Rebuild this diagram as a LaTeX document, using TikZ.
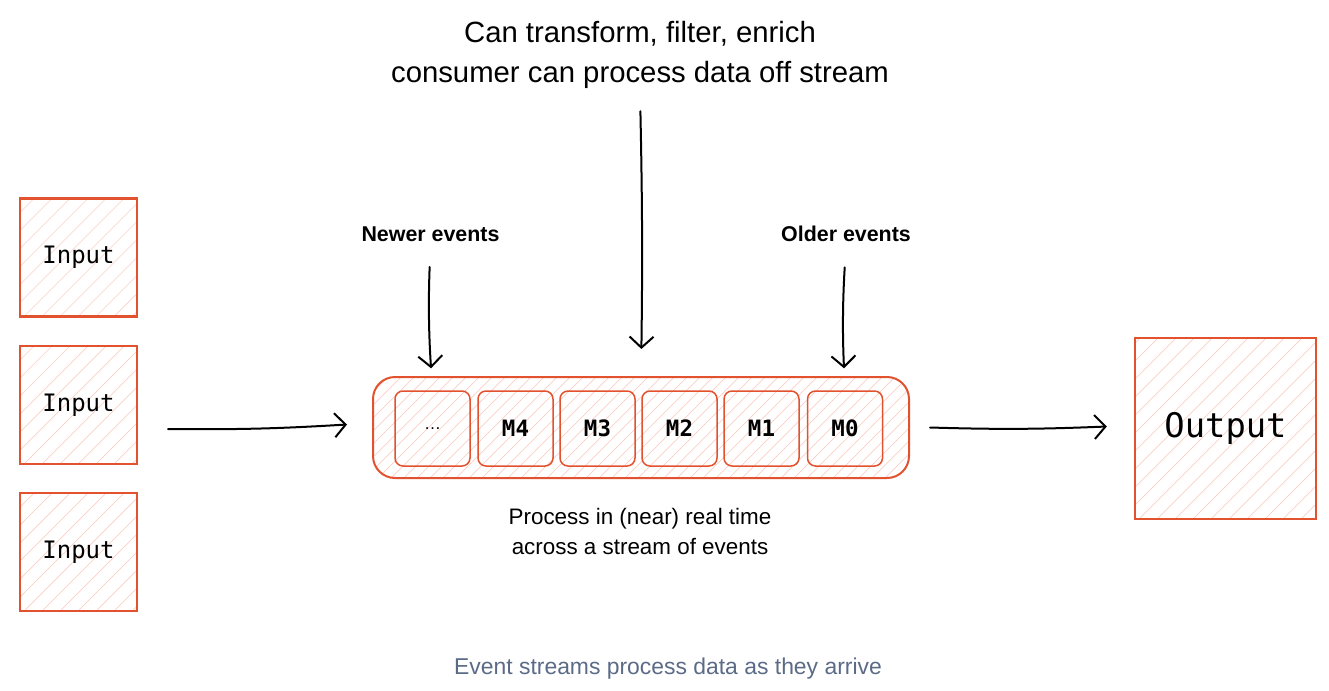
\documentclass[tikz,border=0pt]{standalone}
\usepackage{fontspec}
\setmainfont{Liberation Sans}
\newfontfamily\monofnt{DejaVu Sans Mono}
\usetikzlibrary{arrows.meta}
\definecolor{redline}{HTML}{E2522E}
\definecolor{hatchc}{HTML}{F9CFC4}
\definecolor{capc}{HTML}{5B6B86}
\tikzset{
  hatched/.style={path picture={
     \path (path picture bounding box.south west) coordinate (hsw);
     \foreach \k in {0,...,90}
       \draw[hatchc, line width=0.7pt] ([xshift=\k*#1 - 320pt]hsw) -- ++(400pt,400pt);
  }},
  sketchbox/.style={draw=redline, line width=2.4pt, hatched=18pt, inner sep=0pt,
     font=\monofnt\fontsize{24}{27}\selectfont},
  outerbox/.style={draw=redline, line width=2pt, rounded corners=22pt, hatched=13pt,
     minimum width=536pt, minimum height=101pt, inner sep=0pt},
  msgbox/.style={draw=redline, line width=1.5pt, rounded corners=8pt,
     minimum width=75pt, minimum height=75pt, inner sep=0pt,
     font=\monofnt\bfseries\fontsize{22.5}{26}\selectfont},
  flow/.style={draw=black, line width=2pt, line cap=round,
     -{Straight Barb[length=11pt,width=24pt,line width=2pt]}},
  lbl/.style={font=\bfseries\fontsize{21.4}{25}\selectfont},
}
\begin{document}
\begin{tikzpicture}[x=1pt,y=-1pt]
\useasboundingbox (0,0) rectangle (1329,690);
% input / output boxes
\node[sketchbox, minimum width=117pt, minimum height=118pt] (in1) at (78.5,257.5) {Input};
\node[sketchbox, minimum width=117pt, minimum height=118pt] (in2) at (78.5,405) {Input};
\node[sketchbox, minimum width=117pt, minimum height=118pt] (in3) at (78.5,552) {Input};
\node[sketchbox, minimum width=181pt, minimum height=181pt,
      font=\monofnt\fontsize{33.8}{38}\selectfont] (out) at (1225.5,428.5) {Output};
% stream
\node[outerbox] (stream) at (641,427.5) {};
\node[msgbox, font=\fontsize{17}{20}\selectfont] (dots) at (432.5,428.5) {…};
\node[msgbox] (m4) at (515.5,428.5) {M4};
\node[msgbox] (m3) at (597.5,428.5) {M3};
\node[msgbox] (m2) at (679.5,428.5) {M2};
\node[msgbox] (m1) at (761.5,428.5) {M1};
\node[msgbox] (m0) at (845,428.5) {M0};
% texts
\node[align=center, font=\fontsize{29.3}{40}\selectfont] (title) at (640,55)
  {Can transform, filter, enrich\\consumer can process data off stream};
\node[lbl] (newer) at (430.5,234) {Newer events};
\node[lbl] (older) at (846,234) {Older events};
\node[align=center, font=\fontsize{22.4}{30}\selectfont] (proc) at (640,531)
  {Process in (near) real time\\across a stream of events};
\node[text=capc, font=\fontsize{22.9}{26}\selectfont] (cap) at (668,669)
  {Event streams process data as they arrive};
% connectors
\coordinate (inS) at (168,429);
\draw[flow] (inS) to[bend right=2] ([xshift=-25pt,yshift=3pt]stream.west);
\draw[flow] ([xshift=20pt]stream.east) to[bend right=2] ([xshift=-27pt,yshift=2pt]out.west);
\draw[flow, shorten <=22pt, shorten >=22pt] (newer.south) to[bend right=3] (dots.north);
\draw[flow, shorten <=19pt, shorten >=27pt] (title.south) to[bend left=1] (stream.north);
\draw[flow, shorten <=22pt, shorten >=22pt] (older.south) to[bend right=3] (m0.north);
\end{tikzpicture}
\end{document}
